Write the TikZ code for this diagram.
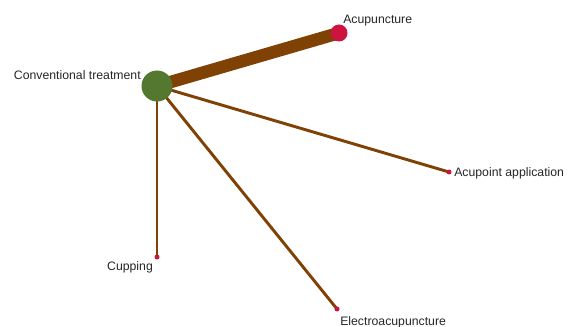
\documentclass[tikz,border=0pt]{standalone}
\usepackage{fontspec}
\setmainfont{Liberation Sans}
\usetikzlibrary{backgrounds}
\definecolor{trtgreen}{RGB}{84,120,48}
\definecolor{trtred}{RGB}{204,20,62}
\definecolor{linkbrown}{RGB}{128,66,4}
\tikzset{
  trt/.style={circle, fill=#1, inner sep=0pt},
  lbl/.style={font=\fontsize{9.2}{11}\selectfont, inner sep=0pt, text=black!85},
  lnk/.style={draw=linkbrown, line width=#1}
}

\begin{document}
\begin{tikzpicture}[x=0.75pt, y=-0.75pt]

    \useasboundingbox (0,0) rectangle (570,327);

    % treatments
    \node[trt=trtgreen, minimum size=23.25pt] (conv) at (157,86) {};
    \node[trt=trtred, minimum size=12.75pt] (acu) at (339,33) {};
    \node[trt=trtred, minimum size=3.75pt] (apl) at (449,172) {};
    \node[trt=trtred, minimum size=3.75pt] (cup) at (157,257) {};
    \node[trt=trtred, minimum size=3.75pt] (elec) at (337,309) {};

    % names
    \node[lbl, anchor=east] (convlbl) at (141,75) {Conventional treatment};
    \node[lbl, anchor=west] (aculbl) at (343,21) {Acupuncture};
    \node[lbl, anchor=west] (apllbl) at (454,173) {Acupoint application};
    \node[lbl] (cuplbl) at (130,267) {Cupping};
    \node[lbl, anchor=west] (eleclbl) at (340,322) {Electroacupuncture};

    % comparisons
    \begin{scope}[on background layer]
        \draw[lnk=9.4pt] (conv.center) -- (acu.center);
        \draw[lnk=2.2pt] (conv.center) -- (apl.center);
        \draw[lnk=2.2pt] (conv.center) -- (cup.center);
        \draw[lnk=2.2pt] (conv.center) -- (elec.center);
    \end{scope}

\end{tikzpicture}
\end{document}
